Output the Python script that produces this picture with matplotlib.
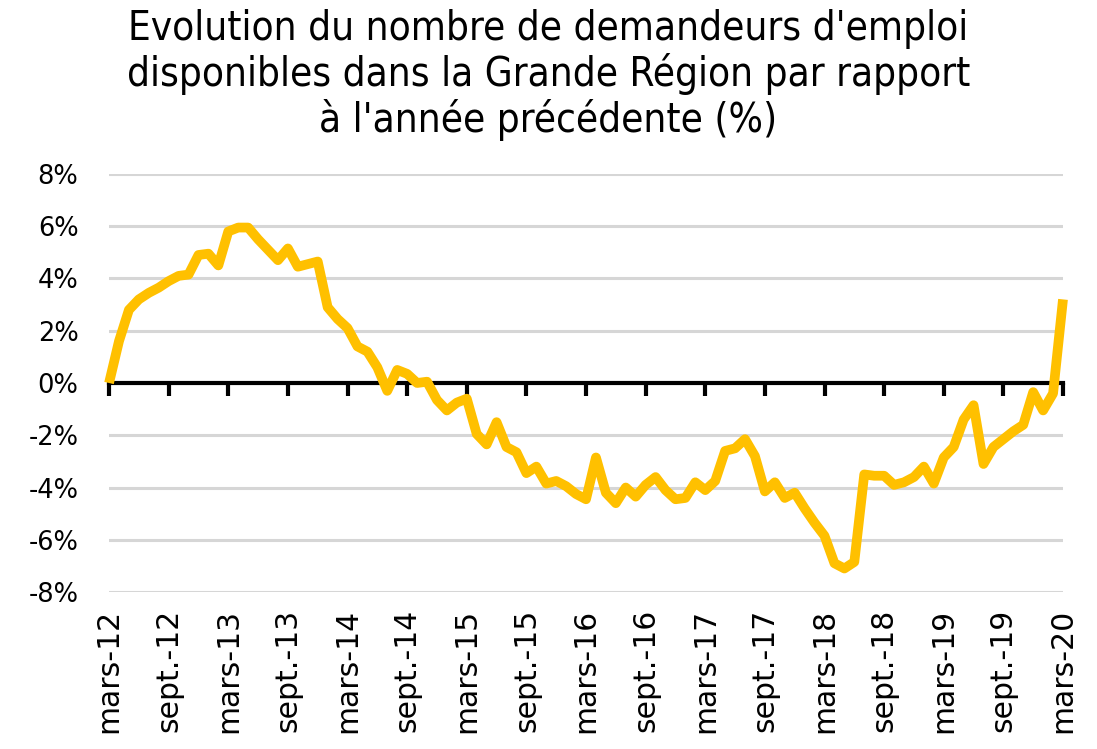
import matplotlib
matplotlib.use('Agg')
import matplotlib.pyplot as plt
import matplotlib.ticker as mticker

# Evolution mensuelle (%), de mars-12 à mars-20
valeurs = [0.0, 1.6, 2.8, 3.2, 3.45, 3.65, 3.9, 4.1, 4.15, 4.9,
           4.95, 4.5, 5.8, 5.95, 5.95, 5.5, 5.1, 4.7, 5.15, 4.45,
           4.55, 4.65, 2.9, 2.45, 2.1, 1.4, 1.2, 0.6, -0.3, 0.5,
           0.35, 0.0, 0.05, -0.65, -1.05, -0.75, -0.6, -1.95, -2.35, -1.5,
           -2.45, -2.65, -3.45, -3.2, -3.85, -3.75, -3.95, -4.25, -4.45, -2.85,
           -4.2, -4.6, -4.0, -4.35, -3.9, -3.6, -4.1, -4.45, -4.4, -3.8,
           -4.1, -3.75, -2.6, -2.5, -2.15, -2.8, -4.15, -3.8, -4.4, -4.2,
           -4.8, -5.35, -5.85, -6.9, -7.1, -6.85, -3.5, -3.55, -3.55, -3.9,
           -3.8, -3.6, -3.2, -3.85, -2.85, -2.45, -1.4, -0.85, -3.1, -2.45,
           -2.15, -1.85, -1.6, -0.35, -1.05, -0.4, 3.2]
mois = list(range(len(valeurs)))
etiquettes = ['mars-12', 'sept.-12', 'mars-13', 'sept.-13', 'mars-14', 'sept.-14',
              'mars-15', 'sept.-15', 'mars-16', 'sept.-16', 'mars-17', 'sept.-17',
              'mars-18', 'sept.-18', 'mars-19', 'sept.-19', 'mars-20']
pos_etiquettes = list(range(0, 97, 6))
yticks = [-8, -6, -4, -2, 0, 2, 4, 6, 8]
titre = "Evolution du nombre de demandeurs d'emploi\ndisponibles dans la Grande Région par rapport\nà l'année précédente (%)"

plt.rcParams['font.family'] = 'DejaVu Sans'
fig = plt.figure(figsize=(10.97, 7.49), dpi=100)
ax = fig.add_axes([0.0994, 0.2096, 0.8696, 0.5581])

ax.plot(mois, valeurs, color='#FFC000', linewidth=7, solid_joinstyle='round',
        solid_capstyle='butt', zorder=3, clip_on=False)

ax.set_xlim(0, 96)
ax.set_ylim(-8, 8)
ax.set_yticks(yticks)
ax.yaxis.set_major_formatter(mticker.FuncFormatter(lambda v, p: '%d%%' % v))
ax.tick_params(axis='y', length=0, pad=22, labelsize=18.5)
for y in yticks:
    if y != 0:
        ax.axhline(y, color='#d6d6d6', linewidth=2.2, zorder=1)

for s in ['top', 'right', 'left']:
    ax.spines[s].set_visible(False)
# axe horizontal à zéro avec graduations
ax.spines['bottom'].set_position(('data', 0))
ax.spines['bottom'].set_linewidth(3)
ax.spines['bottom'].set_zorder(2)
ax.set_xticks(pos_etiquettes)
ax.tick_params(axis='x', direction='out', length=9, width=3, labelbottom=False)

# étiquettes en bas
sec = ax.secondary_xaxis('bottom')
sec.set_xticks(pos_etiquettes)
sec.set_xticklabels(etiquettes, rotation=90, fontsize=21.5)
sec.tick_params(length=0, pad=12)
sec.spines['bottom'].set_visible(False)

fig.suptitle(titre, fontsize=29, y=0.988, linespacing=1.12,
             family=['Liberation Sans Narrow', 'DejaVu Sans'], fontstretch='condensed')

fig.savefig('out.png', dpi=100)
